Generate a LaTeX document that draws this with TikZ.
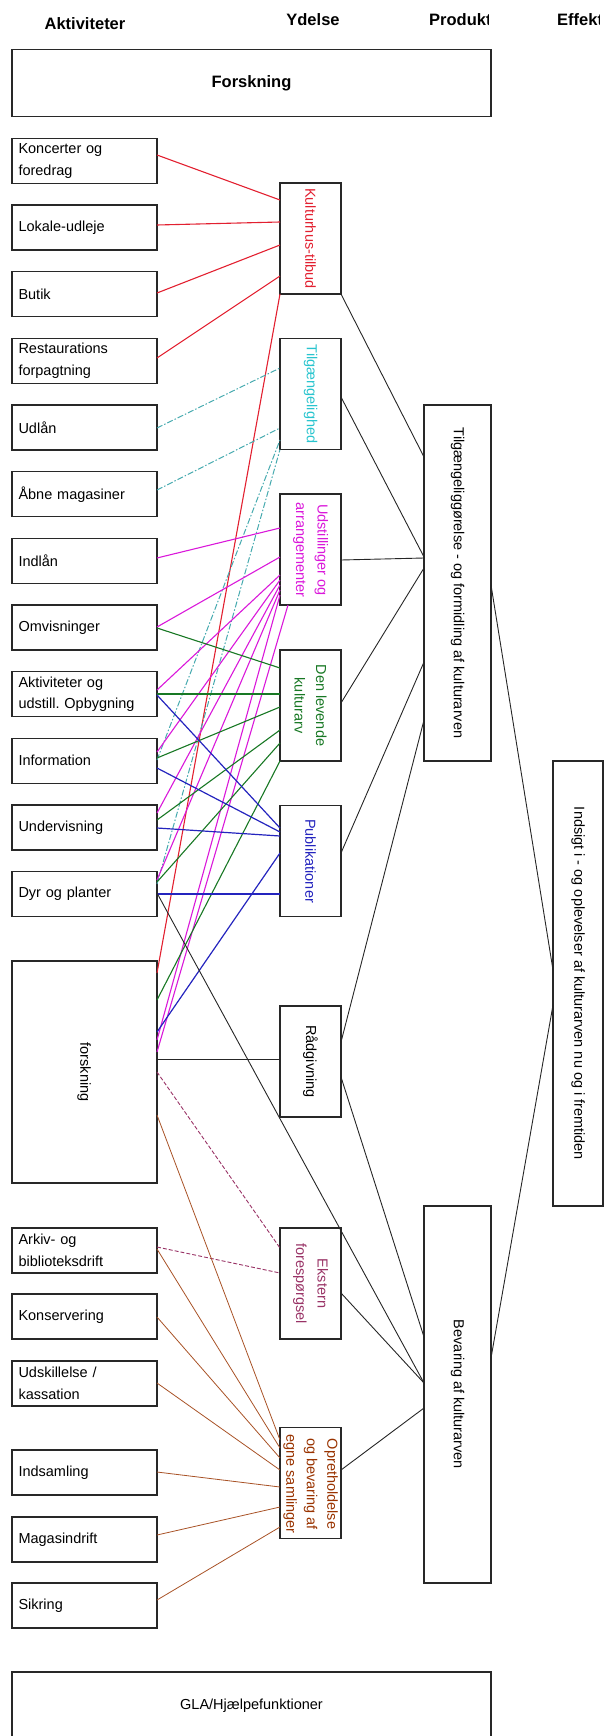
\documentclass[tikz,border=0pt]{standalone}
\usepackage{fontspec}
\setmainfont{Liberation Sans}
\usetikzlibrary{calc}
\frenchspacing
\definecolor{cred}{RGB}{226,32,48}
\definecolor{ccyan}{RGB}{40,196,206}
\definecolor{ccyanl}{RGB}{70,170,175}
\definecolor{cmag}{RGB}{218,24,218}
\definecolor{cgreen}{RGB}{24,120,36}
\definecolor{cblue}{RGB}{36,36,190}
\definecolor{cpurp}{RGB}{153,51,102}
\definecolor{cbrown}{RGB}{153,51,0}
\definecolor{cbox}{RGB}{40,40,40}
\newcommand\myfs{\fontsize{14.5}{21.5}\selectfont\frenchspacing}
\newcommand\myhd{\bfseries\fontsize{16.5}{20}\selectfont}
\begin{document}
\begin{tikzpicture}[x=1pt,y=-1pt,
  box/.style={draw=cbox, line width=1.5pt, inner sep=0pt, outer sep=0pt},
  lbox/.style={box, minimum width=145pt, minimum height=45pt, text width=132pt, align=left, font=\myfs},
  ybox/.style={box, minimum width=61pt, minimum height=111pt},
  rtext/.style={rotate=-90, align=center, font=\myfs, inner sep=0pt},
  hdr/.style={font=\myhd, inner sep=0pt},
  redl/.style={draw=cred, line width=1.1pt},
  cyanl/.style={draw=ccyanl, line width=1pt, dash pattern=on 6pt off 2pt on 1.5pt off 2pt},
  magl/.style={draw=cmag, line width=1.1pt},
  greenl/.style={draw=cgreen, line width=1.1pt},
  bluel/.style={draw=cblue, line width=1.2pt},
  blackl/.style={draw=black!85, line width=0.9pt},
  purpl/.style={draw=cpurp, line width=0.9pt, dash pattern=on 4pt off 2pt},
  brownl/.style={draw=cbrown!85, line width=0.8pt}
]
\useasboundingbox (0,0) rectangle (606,1736);

% headers
\node[hdr] (hA) at (85,23.5) {Aktiviteter};
\node[hdr] (hY) at (313,20) {Ydelse};
\begin{scope}
  \clip (420,4) rectangle (488.3,40);
  \node[hdr, anchor=west] (hP) at (429,20) {Produkt};
\end{scope}
\begin{scope}
  \clip (550,4) rectangle (599.6,40);
  \node[hdr, anchor=west] (hE) at (557,20) {Effekt};
\end{scope}

% top and bottom wide boxes
\node[box, minimum width=479pt, minimum height=67pt, font=\myhd] (forskTop) at (251.5,83) {Forskning};
\node[box, minimum width=479pt, minimum height=67pt, font=\myfs] (gla) at (251.5,1705.5) {GLA/Hjælpefunktioner};

% left boxes
\node[lbox] (konc)   at (84.5,160.8) {Koncerter og\\foredrag};
\node[lbox] (lokale) at (84.5,227.5) {Lokale-udleje};
\node[lbox] (butik)  at (84.5,294.2) {Butik};
\node[lbox] (rest)   at (84.5,360.8) {Restaurations\\forpagtning};
\node[lbox] (udlan)  at (84.5,427.5) {Udlån};
\node[lbox] (abne)   at (84.5,494.2) {Åbne magasiner};
\node[lbox] (indlan) at (84.5,560.8) {Indlån};
\node[lbox] (omvis)  at (84.5,627.5) {Omvisninger};
\node[lbox] (aktiv)  at (84.5,694.2) {Aktiviteter og\\udstill. Opbygning};
\node[lbox] (info)   at (84.5,760.8) {Information};
\node[lbox] (underv) at (84.5,827.5) {Undervisning};
\node[lbox] (dyr)    at (84.5,894.2) {Dyr og planter};
\node[box, minimum width=145pt, minimum height=222pt] (forsk) at (84.5,1072) {};
\node[rtext] (forskT) at (84,1072) {forskning};
\node[lbox] (arkiv)   at (84.5,1250.5) {Arkiv- og\\biblioteksdrift};
\node[lbox] (konserv) at (84.5,1316.5) {Konservering};
\node[lbox] (udsk)    at (84.5,1383.5) {Udskillelse /\\kassation};
\node[lbox] (indsam)  at (84.5,1472.5) {Indsamling};
\node[lbox] (magas)   at (84.5,1539.5) {Magasindrift};
\node[lbox] (sikr)    at (84.5,1605.5) {Sikring};

% Ydelse boxes
\node[ybox] (kult) at (310.5,238.5) {};
\node[rtext, text=cred] (kultT) at (kult) {Kulturhus-tilbud};
\node[ybox] (tilg) at (310.5,394) {};
\node[rtext, text=ccyan] (tilgT) at (tilg) {Tilgængelighed};
\node[ybox] (udst) at (310.5,549.5) {};
\node[rtext, text=cmag] (udstT) at (310.5,550) {Udstillinger og\\arrangementer};
\node[ybox] (lev) at (310.5,705.5) {};
\node[rtext, text=cgreen] (levT) at (lev) {Den levende\\kulturarv};
\node[ybox] (publ) at (310.5,861) {};
\node[rtext, text=cblue] (publT) at (publ) {Publikationer};
\node[ybox] (rad) at (310.5,1061.5) {};
\node[rtext] (radT) at (rad) {Rådgivning};
\node[ybox] (ekst) at (310.5,1283.5) {};
\node[rtext, text=cpurp] (ekstT) at (ekst) {Ekstern\\forespørgsel};
\node[ybox] (opr) at (310.5,1483) {};
\node[rtext, text=cbrown, font=\fontsize{14.5}{20.5}\selectfont] (oprT) at (310.5,1484) {Opretholdelse\\og bevaring af\\egne samlinger};

% Produkt boxes
\node[box, minimum width=67pt, minimum height=356pt] (tilgfor) at (457.5,583) {};
\node[rtext] (tilgforT) at (tilgfor) {Tilgængeliggørelse - og formidling af kulturarven};
\node[box, minimum width=67pt, minimum height=377pt] (bev) at (457.5,1394.5) {};
\node[rtext] (bevT) at (bev) {Bevaring af kulturarven};

% Effekt box
\node[box, minimum width=50pt, minimum height=445pt] (eff) at (578,983.5) {};
\node[rtext] (effT) at (eff) {Indsigt i - og oplevelser af kulturarven nu og i fremtiden};

% red
\draw[redl] (konc.east |- 0,155) -- (kult.west |- 0,200);
\draw[redl] (lokale.east |- 0,225) -- (kult.west |- 0,222);
\draw[redl] (butik.east |- 0,293) -- (kult.west |- 0,245);
\draw[redl] (rest.east |- 0,358) -- (kult.west |- 0,276);
\draw[redl] (forsk.east |- 0,973) -- (kult.south west);

% cyan
\draw[cyanl] (udlan.east |- 0,428) -- (tilg.west |- 0,368);
\draw[cyanl] (abne.east |- 0,490) -- (tilg.west |- 0,428);
\draw[cyanl] (info.east |- 0,760) -- (tilg.west |- 0,440);
\draw[cyanl] (dyr.east |- 0,884) -- (tilg.south west);

% magenta
\draw[magl] (indlan.east |- 0,558) -- (udst.west |- 0,528);
\draw[magl] (omvis.east |- 0,627) -- (udst.west |- 0,557);
\draw[magl] (aktiv.east |- 0,690) -- (udst.west |- 0,575);
\draw[magl] (info.east |- 0,752) -- (udst.west |- 0,580);
\draw[magl] (underv.east |- 0,813) -- (udst.west |- 0,585);
\draw[magl] (dyr.east |- 0,880) -- (udst.west |- 0,590);
\draw[magl] (forsk.east |- 0,1040) -- (udst.west |- 0,595);
\draw[magl] (forsk.east |- 0,1052) -- ($(udst.south west)+(8,0)$);

% green
\draw[greenl] (omvis.east |- 0,628) -- (lev.west |- 0,668);
\draw[greenl] (aktiv.east |- 0,694) -- (lev.west |- 0,694);
\draw[greenl] (info.east |- 0,758) -- (lev.west |- 0,707);
\draw[greenl] (underv.east |- 0,820) -- (lev.west |- 0,730);
\draw[greenl] (dyr.east |- 0,882) -- (lev.west |- 0,743);
\draw[greenl] (forsk.east |- 0,1000) -- (lev.south west);

% blue
\draw[bluel] (aktiv.east |- 0,695) -- (publ.west |- 0,828);
\draw[bluel] (info.east |- 0,768) -- (publ.west |- 0,832);
\draw[bluel] (underv.east |- 0,828) -- (publ.west |- 0,836);
\draw[bluel] (dyr.east |- 0,894) -- (publ.west |- 0,894);
\draw[bluel] (forsk.east |- 0,1032) -- (publ.west |- 0,853);

% black
\draw[blackl] (kult.south east) -- (tilgfor.west |- 0,457);
\draw[blackl] (tilg.east |- 0,397) -- (tilgfor.west |- 0,557);
\draw[blackl] (udst.east |- 0,560) -- (tilgfor.west |- 0,558);
\draw[blackl] (lev.east |- 0,703) -- (tilgfor.west |- 0,568);
\draw[blackl] (publ.east |- 0,853) -- (tilgfor.west |- 0,662);
\draw[blackl] (rad.east |- 0,1042) -- (tilgfor.west |- 0,720);
\draw[blackl] (rad.east |- 0,1077) -- (bev.west |- 0,1337);
\draw[blackl] (ekst.east |- 0,1293) -- (bev.west |- 0,1383);
\draw[blackl] (opr.east |- 0,1470) -- (bev.west |- 0,1408);
\draw[blackl] (dyr.east |- 0,893) -- (bev.west |- 0,1383);
\draw[blackl] (forsk.east |- 0,1059) -- (rad.west |- 0,1059);
\draw[blackl] (tilgfor.east |- 0,585) -- (eff.west |- 0,970);
\draw[blackl] (bev.east |- 0,1358) -- (eff.west |- 0,1005);

% purple dashed
\draw[purpl] (forsk.east |- 0,1072) -- (ekst.west |- 0,1248);
\draw[purpl] (arkiv.east |- 0,1247) -- (ekst.west |- 0,1273);

% brown
\draw[brownl] (forsk.east |- 0,1115) -- (opr.west |- 0,1440);
\draw[brownl] (arkiv.east |- 0,1249) -- (opr.west |- 0,1448);
\draw[brownl] (konserv.east |- 0,1317) -- (opr.west |- 0,1458);
\draw[brownl] (udsk.east |- 0,1383) -- (opr.west |- 0,1470);
\draw[brownl] (indsam.east |- 0,1472) -- (opr.west |- 0,1487);
\draw[brownl] (magas.east |- 0,1535) -- (opr.west |- 0,1507);
\draw[brownl] (sikr.east |- 0,1600) -- (opr.west |- 0,1527);
\end{tikzpicture}
\end{document}
